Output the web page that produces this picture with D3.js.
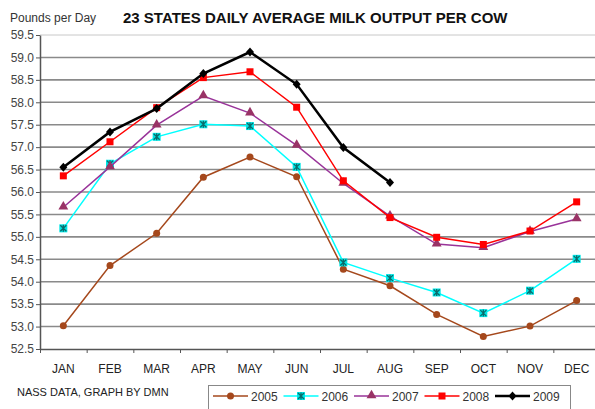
<!DOCTYPE html>
<meta charset="utf-8">
<style>
body { margin: 0; background: #fff; }
text { font-family: "Liberation Sans", Arial, sans-serif; }
</style>
<body>
<script src="https://d3js.org/d3.v7.min.js"></script>
<script>

// data
var months = ["JAN","FEB","MAR","APR","MAY","JUN","JUL","AUG","SEP","OCT","NOV","DEC"];
var y2005 = [53.02, 54.36, 55.08, 56.33, 56.78, 56.34, 54.28, 53.91, 53.27, 52.78, 53.01, 53.58];
var y2006 = [55.19, 56.63, 57.23, 57.51, 57.47, 56.56, 54.43, 54.08, 53.76, 53.30, 53.80, 54.51];
var y2007 = [55.66, 56.56, 57.49, 58.14, 57.76, 57.04, 56.19, 55.46, 54.84, 54.76, 55.12, 55.40];
var y2008 = [56.36, 57.12, 57.88, 58.55, 58.68, 57.89, 56.25, 55.43, 54.99, 54.83, 55.13, 55.78];
var y2009 = [56.55, 57.34, 57.86, 58.64, 59.12, 58.40, 56.99, 56.21];
var yTicks = [52.5, 53.0, 53.5, 54.0, 54.5, 55.0, 55.5, 56.0, 56.5, 57.0, 57.5, 58.0, 58.5, 59.0, 59.5];

var series = [
  {name: "2005", values: y2005, color: "#a5481c", width: 1.5, marker: "circle"},
  {name: "2006", values: y2006, color: "#00ffff", width: 1.5, marker: "star"},
  {name: "2007", values: y2007, color: "#993399", width: 1.5, marker: "triangle"},
  {name: "2008", values: y2008, color: "#ff0000", width: 1.5, marker: "square"},
  {name: "2009", values: y2009, color: "#000000", width: 2.5, marker: "diamond"}
];

var W = 595, H = 409;
var plotLeft = 40, plotRight = 600, plotTop = 35, plotBottom = 349;

var svg = d3.select("body").append("svg")
    .attr("width", W)
    .attr("height", H);

var x = d3.scaleBand().domain(months).range([plotLeft, plotRight]);
var xEdge = d3.scaleLinear().domain([0, 12]).range([plotLeft, plotRight]);
var y = d3.scaleLinear().domain([52.5, 59.5]).range([plotBottom, plotTop]);

// gridlines
svg.append("g")
  .selectAll("line")
  .data(yTicks.slice(1))
  .enter().append("line")
    .attr("x1", plotLeft).attr("x2", plotRight)
    .attr("y1", function(d) { return y(d); })
    .attr("y2", function(d) { return y(d); })
    .attr("stroke", function(d) { return d === 59.5 ? "#c8c8c8" : "#8a8a8a"; })
    .attr("stroke-width", function(d) { return d === 59.5 ? 1 : 1.6; });

// y axis
var yAxis = svg.append("g")
    .attr("transform", "translate(" + plotLeft + ",0)")
    .call(d3.axisLeft(y).tickValues(yTicks).tickFormat(d3.format(".1f")).tickSize(4).tickSizeOuter(0));
yAxis.select(".domain").attr("stroke", "#555").attr("stroke-width", 1.5);
yAxis.selectAll(".tick line").attr("stroke", "#555");
yAxis.selectAll("text").attr("fill", "#444").style("font-size", "12px").attr("x", -6);

// x axis: boundary ticks and month labels
var xTicks = svg.append("g")
    .attr("transform", "translate(0," + plotBottom + ")")
    .call(d3.axisBottom(xEdge).ticks(12).tickFormat("").tickSize(4).tickSizeOuter(0));
xTicks.select(".domain").attr("stroke", "#555").attr("stroke-width", 1.5);
xTicks.selectAll(".tick line").attr("stroke", "#555");

var xLabels = svg.append("g")
    .attr("transform", "translate(0," + plotBottom + ")")
    .call(d3.axisBottom(x).tickSize(0));
xLabels.select(".domain").remove();
xLabels.selectAll("text").attr("fill", "#222").style("font-size", "12px").attr("dy", "1.75em");

// marker drawing
function drawMarker(g, s) {
  if (s.marker === "circle") {
    g.append("circle").attr("r", 3.5).attr("fill", s.color);
  } else if (s.marker === "square") {
    g.append("rect").attr("x", -3.5).attr("y", -3.5).attr("width", 7).attr("height", 7).attr("fill", s.color);
  } else if (s.marker === "triangle") {
    g.append("path").attr("d", d3.symbol(d3.symbolTriangle, 42)()).attr("transform", "translate(0,-0.5)").attr("fill", "#993366");
  } else if (s.marker === "diamond") {
    g.append("path").attr("d", "M0,-4.5L4,0L0,4.5L-4,0Z").attr("fill", s.color);
  } else if (s.marker === "star") {
    g.append("rect").attr("x", -4).attr("y", -4).attr("width", 8).attr("height", 8).attr("fill", "#00e6e6");
    g.append("path").attr("d", "M-3,-3L3,3M3,-3L-3,3M0,-3.5L0,3.5")
      .attr("stroke", "#0b6b6b").attr("stroke-width", 1.3);
  }
}

var line = d3.line()
    .x(function(d, i) { return x(months[i]) + x.bandwidth() / 2; })
    .y(function(d) { return y(d); });

series.forEach(function(s) {
  var g = svg.append("g");
  g.append("path")
    .datum(s.values)
    .attr("fill", "none")
    .attr("stroke", s.color)
    .attr("stroke-width", s.width)
    .attr("d", line);
  g.selectAll("g.pt")
    .data(s.values)
    .enter().append("g")
      .attr("class", "pt")
      .attr("transform", function(d, i) {
        return "translate(" + (x(months[i]) + x.bandwidth() / 2) + "," + y(d) + ")";
      })
      .each(function() { drawMarker(d3.select(this), s); });
});

// titles
svg.append("text")
    .attr("x", 10).attr("y", 22)
    .attr("fill", "#333")
    .style("font-size", "12px")
    .text("Pounds per Day");

svg.append("text")
    .attr("x", 123).attr("y", 23)
    .attr("fill", "#111")
    .style("font-size", "15px")
    .style("font-weight", "bold")
    .text("23 STATES DAILY AVERAGE MILK OUTPUT PER COW");

svg.append("text")
    .attr("x", 17).attr("y", 396)
    .attr("fill", "#222")
    .style("font-size", "11px")
    .text("NASS DATA, GRAPH BY DMN");

// legend
var legend = svg.append("g");
legend.append("rect")
    .attr("x", 208.5).attr("y", 385.5)
    .attr("width", 362).attr("height", 40)
    .attr("fill", "#fff")
    .attr("stroke", "#888");

series.forEach(function(s, i) {
  var lx = 213 + i * 70.5, ly = 396;
  var item = legend.append("g");
  item.append("line")
    .attr("x1", lx).attr("x2", lx + 35)
    .attr("y1", ly).attr("y2", ly)
    .attr("stroke", s.color)
    .attr("stroke-width", s.width);
  var m = item.append("g").attr("transform", "translate(" + (lx + 17.5) + "," + ly + ")");
  drawMarker(m, s);
  item.append("text")
    .attr("x", lx + 38).attr("y", ly + 4.5)
    .attr("fill", "#333")
    .style("font-size", "12px")
    .text(s.name);
});

</script>
</body>
